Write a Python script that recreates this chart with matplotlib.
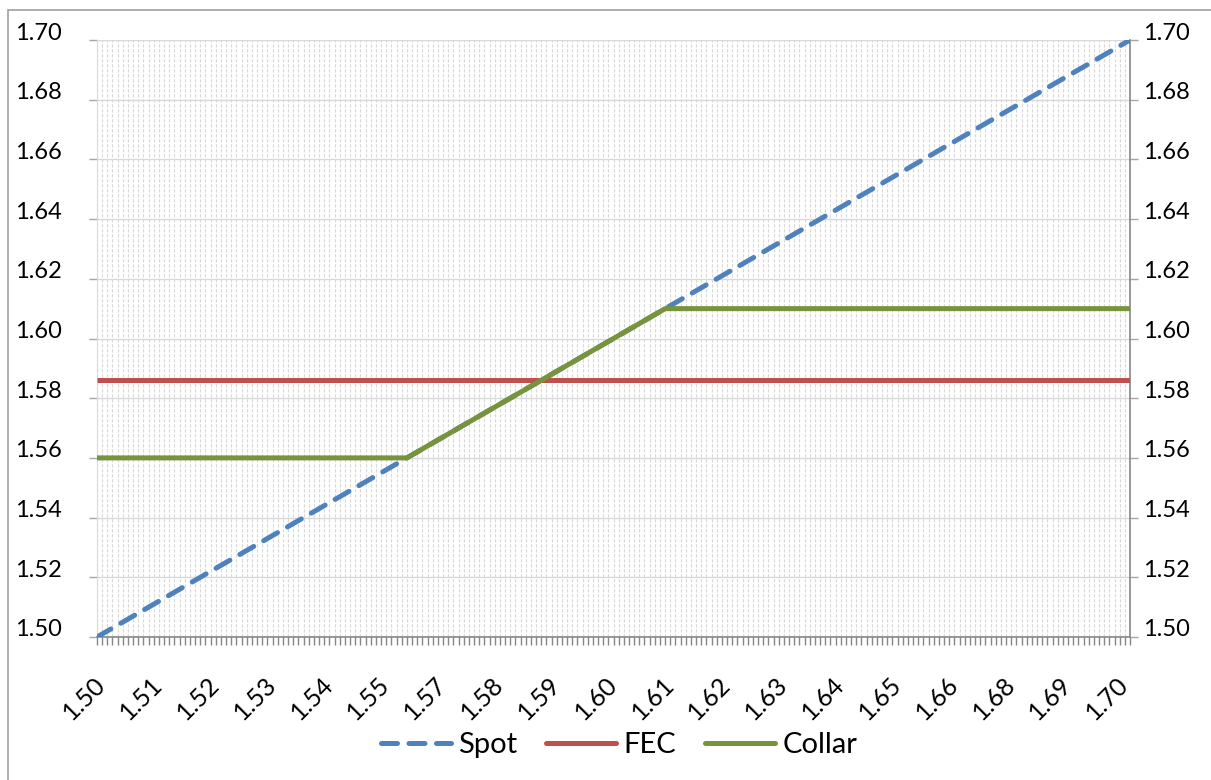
import matplotlib
matplotlib.use("Agg")
import matplotlib.pyplot as plt
from matplotlib.patches import Rectangle
from matplotlib.lines import Line2D
from matplotlib.transforms import ScaledTranslation
import numpy as np

# ---- data ----
spot_x = [1.50, 1.70]
spot_y = [1.50, 1.70]
fec_x = [1.50, 1.70]
fec_y = [1.586, 1.586]
collar_x = [1.50, 1.56, 1.61, 1.70]
collar_y = [1.56, 1.56, 1.61, 1.61]

# category axis: 201 categories (1.500 .. 1.700 step 0.001), label every 11th
cat_start = 1.500
cat_step = 0.001
n_cats = 201
label_every = 11
xtick_labels = ['1.50', '1.51', '1.52', '1.53', '1.54', '1.55', '1.57', '1.58', '1.59',
                '1.60', '1.61', '1.62', '1.63', '1.64', '1.65', '1.66', '1.68', '1.69', '1.70']
ytick_values = [1.50, 1.52, 1.54, 1.56, 1.58, 1.60, 1.62, 1.64, 1.66, 1.68, 1.70]

BLUE = '#4F81BD'
RED = '#C0504D'
GREEN = '#77933C'
FONT = 'Lato'

W, H = 1211, 780
fig = plt.figure(figsize=(W / 100, H / 100), dpi=100)
ax = fig.add_axes([97 / W, 1 - 637 / H, (1130 - 97) / W, (637 - 40) / H])

cats = cat_start + cat_step * np.arange(n_cats)
ax.set_xlim(cats[0], cats[-1])
ax.set_ylim(1.50, 1.70)

# gridlines
for c in cats:
    ax.axvline(c, color='#d9d9d9', lw=0.8, ls=(0, (3, 1.5)), zorder=0)
for v in ytick_values:
    ax.axhline(v, color='#d9d9d9', lw=1.0, zorder=0.5)

lw = 3.6
ax.plot(spot_x, spot_y, color=BLUE, lw=lw, ls=(0, (3.2, 2.3)), dash_capstyle='round', zorder=3)
ax.plot(fec_x, fec_y, color=RED, lw=lw, solid_capstyle='butt', zorder=4)
ax.plot(collar_x, collar_y, color=GREEN, lw=lw, solid_capstyle='butt', solid_joinstyle='round', zorder=5)

# x axis ticks
tick_pos = [cats[i] for i in range(0, n_cats, label_every)]
ax.set_xticks(tick_pos)
ax.set_xticklabels(xtick_labels, rotation=45, ha='right', va='top', rotation_mode='anchor',
                   fontsize=18, fontname=FONT)
ax.set_xticks(cats, minor=True)
ax.tick_params(axis='x', which='both', direction='out', length=5.5, width=1, color='#868686', pad=20)
for lab in ax.get_xticklabels():
    lab.set_transform(lab.get_transform() + ScaledTranslation(-3 / 100, 0, fig.dpi_scale_trans))

# y axes
ax.set_yticks(ytick_values)
ax.set_yticklabels([f'{v:.2f}' for v in ytick_values], fontsize=17, fontname=FONT)
ax.tick_params(axis='y', which='major', direction='out', length=6, width=1, color='#a6a6a6',
               left=True, right=True, labelleft=True, labelright=True)
ax.tick_params(axis='y', which='major', pad=53)
for lab in ax.yaxis.get_majorticklabels():
    lab.set_horizontalalignment('left')
for t in ax.yaxis.get_major_ticks():
    t.label1.set_transform(t.label1.get_transform() + ScaledTranslation(0, 9 / 100, fig.dpi_scale_trans))
    t.label2.set_transform(t.label2.get_transform() + ScaledTranslation(-69 / 100, 9 / 100, fig.dpi_scale_trans))
    t.label2.set_horizontalalignment('left')

ax.spines['top'].set_visible(False)
ax.spines['left'].set_color('#d9d9d9')
ax.spines['right'].set_color('#868686')
ax.spines['right'].set_linewidth(1.2)
ax.spines['bottom'].set_color('#868686')
ax.spines['bottom'].set_linewidth(1.2)

# legend
handles = [Line2D([], [], color=BLUE, lw=lw, ls=(0, (3.2, 2.3)), dash_capstyle='round'),
           Line2D([], [], color=RED, lw=lw, solid_capstyle='round'),
           Line2D([], [], color=GREEN, lw=lw, solid_capstyle='round')]
fig.legend(handles, ['Spot', 'FEC', 'Collar'], loc='center', bbox_to_anchor=(619 / W, 1 - 745 / H),
           ncol=3, frameon=False, prop={'family': FONT, 'size': 21}, handlelength=2.4,
           handletextpad=0.25, columnspacing=1.0)

# outer border
fig.add_artist(Rectangle((8 / W, -0.1), 1.2, 1 - 10 / H + 0.1, transform=fig.transFigure,
                         fill=False, edgecolor='#a0a0a0', lw=1.2))

fig.savefig('out.png', dpi=100)
